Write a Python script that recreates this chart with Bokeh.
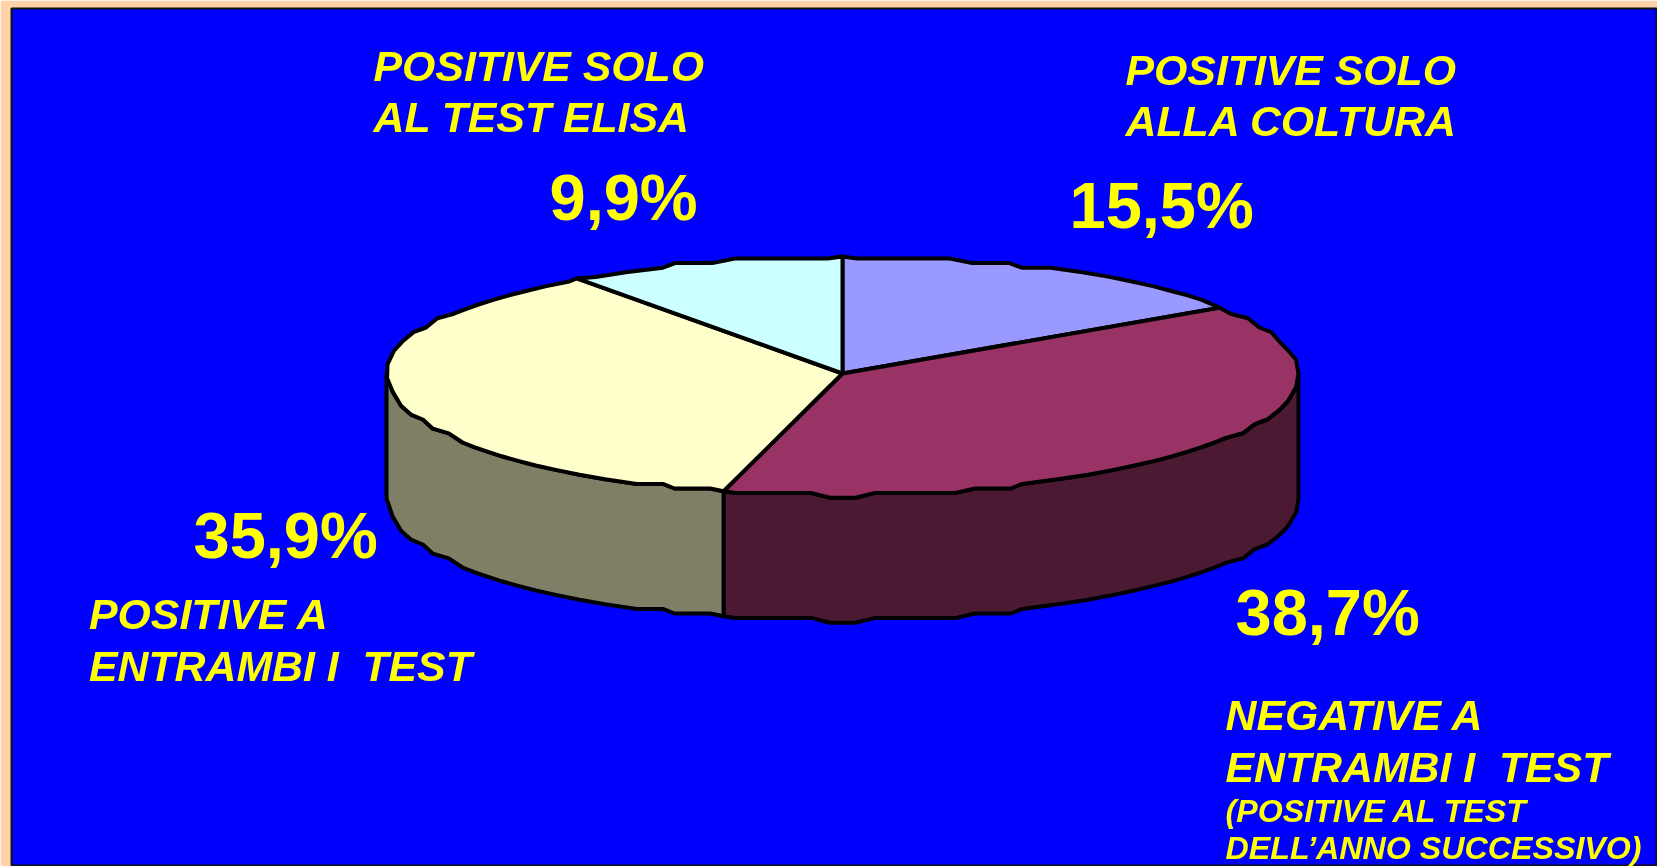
import numpy as np
from bokeh.plotting import figure
from bokeh.models import Range1d
from bokeh.core.properties import value
from bokeh.embed import file_html
from bokeh.resources import INLINE

# ---- data ----
categories = ["POSITIVE SOLO ALLA COLTURA", "NEGATIVE A ENTRAMBI I TEST",
              "POSITIVE A ENTRAMBI I TEST", "POSITIVE SOLO AL TEST ELISA"]
shares = [15.5, 38.7, 35.9, 9.9]
top_colors = ["#9999FF", "#993366", "#FFFFCC", "#CCFFFF"]
side_colors = ["#4C3F7F", "#4C1933", "#7F7F66", "#667F7F"]
pct_labels = ["15,5%", "38,7%", "35,9%", "9,9%"]

W, H = 1657, 866
CX, CY = 842, 373
RX, RY_UP, RY_DOWN = 456, 117, 122
DEPTH = 125
STEP = 4.6
MIN_SEG = 12


def arc(a0, a1):
    """Coarse, stepped elliptical outline; angles in degrees clockwise from the top."""
    n = max(2, int(abs(a1 - a0) * 4) + 1)
    t = np.radians(np.linspace(a0, a1, n))
    x = CX + RX * np.sin(t)
    c = np.cos(t)
    y = CY - np.where(c > 0, RY_UP, RY_DOWN) * c
    q = np.round((y - CY) / STEP) * STEP + CY
    pts = [(x[0], y[0])]
    i = 0
    while i < n:
        j = i
        while j + 1 < n and q[j + 1] == q[i]:
            j += 1
        d = (x[j] - x[i]) * 0.12
        pts += [(x[i] + d, q[i]), (x[j] - d, q[i])]
        i = j + 1
    kept = [pts[0]]
    for a, b in pts[1:]:
        if np.hypot(a - kept[-1][0], b - kept[-1][1]) >= MIN_SEG:
            kept.append((a, b))
    end = (x[-1], y[-1])
    if np.hypot(end[0] - kept[-1][0], end[1] - kept[-1][1]) < MIN_SEG / 2 and len(kept) > 1:
        kept.pop()
    kept.append(end)
    arr = np.array(kept)
    return arr[:, 0], arr[:, 1]


p = figure(width=W, height=H, output_backend="svg", toolbar_location=None,
           x_range=Range1d(11, W), y_range=Range1d(H, 8),
           x_axis_location=None, y_axis_location=None,
           min_border_left=11, min_border_top=8, min_border_right=0, min_border_bottom=0,
           background_fill_color="#0000FF", border_fill_color="#FFD2A8",
           outline_line_color="#111111", outline_line_width=2)
p.grid.visible = False
p.styles = {"position": "fixed", "left": "0", "top": "0"}

edges = np.concatenate([[0], np.cumsum(shares)]) / sum(shares) * 360

# visible sides (only the front half of the disc, 90..270 degrees)
for i in range(len(shares)):
    a0, a1 = max(edges[i], 90), min(edges[i + 1], 270)
    if a1 <= a0:
        continue
    x, y = arc(a0, a1)
    p.patch(np.r_[x, x[::-1]], np.r_[y, y[::-1] + DEPTH], fill_color=side_colors[i],
            line_color="black", line_width=4, line_join="round")

# top faces
for i in range(len(shares)):
    x, y = arc(edges[i], edges[i + 1])
    p.patch(np.r_[CX, x], np.r_[CY, y], fill_color=top_colors[i],
            line_color="black", line_width=4, line_join="round")


def label(x, y, text, size, style):
    # this renderer sets the baseline about 0.41 em below the requested y
    p.text([x], [y - 0.41 * size], text=[text], text_color="#FFFF00",
           text_font=value("Liberation Sans"),
           text_font_size=f"{size}px", text_font_style=style,
           text_align="left", text_baseline="alphabetic")


BIG, SMALL = 42.8, 32.2
for txt, x, y in zip(pct_labels, (1069, 1235, 193, 549), (232, 639, 562, 224)):
    label(x, y, txt, 65, "bold")

label(373, 83, "POSITIVE SOLO", BIG, "bold italic")
label(373, 134, "AL TEST ELISA", BIG, "bold italic")
label(1125, 87, "POSITIVE SOLO", BIG, "bold italic")
label(1125, 138, "ALLA COLTURA", BIG, "bold italic")
label(88.5, 631, "POSITIVE A", BIG, "bold italic")
label(88.5, 683, "ENTRAMBI I\u00a0 TEST", BIG, "bold italic")
label(1225, 732, "NEGATIVE A", BIG, "bold italic")
label(1225, 784, "ENTRAMBI I\u00a0 TEST", BIG, "bold italic")
label(1225, 824, "(POSITIVE AL TEST", SMALL, "bold italic")
label(1225, 861, "DELL\u2019ANNO SUCCESSIVO)", SMALL, "bold italic")

open("out.html", "w").write(file_html(p, INLINE))
